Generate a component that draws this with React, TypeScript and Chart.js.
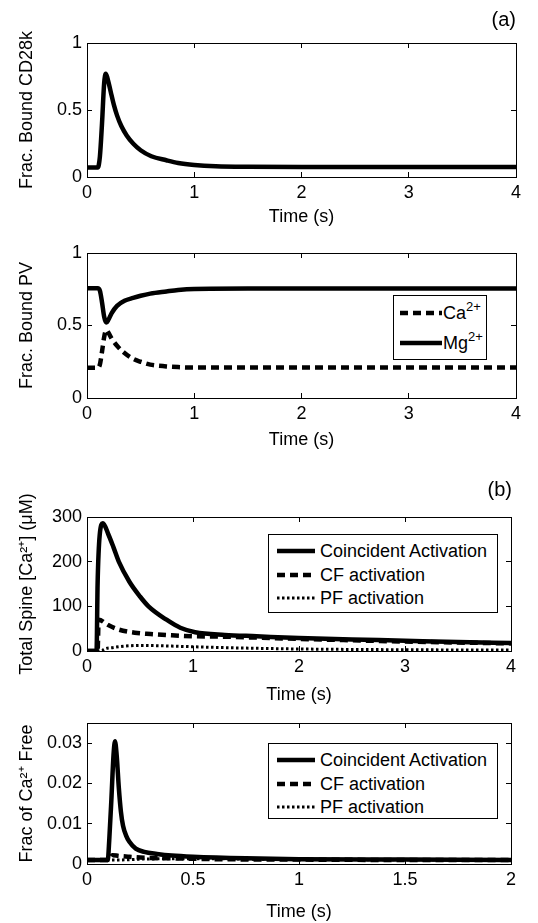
import React, { useEffect, useRef } from 'react';
import { Chart, registerables } from 'chart.js';

Chart.register(...registerables);

const FONT_FAMILY = '"Liberation Sans", Arial, Helvetica, sans-serif';

// ---------- Data: panel (a) top — Frac. Bound CD28k ----------
const cd28kTime = [0, 0.1, 0.12, 0.14, 0.16, 0.175, 0.19, 0.22, 0.25, 0.28, 0.32, 0.37, 0.43, 0.5, 0.6, 0.74, 0.85, 1.0, 1.2, 1.5, 2, 3, 4];
const cd28kBound = [0.07, 0.07, 0.15, 0.4, 0.7, 0.77, 0.74, 0.64, 0.54, 0.46, 0.38, 0.31, 0.25, 0.2, 0.155, 0.125, 0.105, 0.09, 0.08, 0.076, 0.075, 0.075, 0.075];

// ---------- Data: panel (a) bottom — Frac. Bound PV ----------
const pvTime = [0, 0.1, 0.12, 0.14, 0.16, 0.18, 0.2, 0.23, 0.28, 0.35, 0.43, 0.5, 0.59, 0.74, 0.85, 1.0, 1.5, 2, 3, 4];
const pvCa = [0.209, 0.209, 0.23, 0.32, 0.42, 0.469, 0.45, 0.41, 0.36, 0.31, 0.27, 0.25, 0.23, 0.218, 0.213, 0.21, 0.21, 0.21, 0.21, 0.21];
const pvMg = [0.757, 0.757, 0.74, 0.66, 0.56, 0.52, 0.54, 0.585, 0.635, 0.67, 0.69, 0.705, 0.72, 0.735, 0.745, 0.752, 0.755, 0.755, 0.755, 0.755];

// ---------- Data: panel (b) top — Total spine [Ca2+] (uM) ----------
const spineTimeCoincident = [0, 0.09, 0.1, 0.12, 0.15, 0.2, 0.25, 0.3, 0.4, 0.5, 0.58, 0.75, 0.88, 1.02, 1.3, 1.6, 2, 2.5, 3, 3.5, 4];
const spineCoincident = [0, 0, 150, 260, 286, 262, 232, 200, 155, 122, 100, 70, 52, 42, 36, 33, 29, 26, 23, 20, 18];
const spineTimeCF = [0, 0.1, 0.11, 0.2, 0.3, 0.45, 0.6, 0.8, 1.0, 1.3, 1.6, 2, 2.5, 3, 3.5, 4];
const spineCF = [0, 0, 70, 58, 48, 41, 38, 35, 33, 32, 30, 27, 24, 21, 19, 17];
const spineTimePF = [0, 0.14, 0.16, 0.25, 0.35, 0.5, 0.65, 0.8, 1.0, 1.3, 1.6, 2, 2.5, 3, 4];
const spinePF = [0, 0, 4, 8, 11, 12.5, 12, 11, 9.5, 7.5, 6, 4.5, 3.5, 2.8, 2];

// ---------- Data: panel (b) bottom — Frac of Ca2+ free ----------
const freeTimeCoincident = [0, 0.098, 0.105, 0.115, 0.125, 0.132, 0.14, 0.15, 0.16, 0.17, 0.185, 0.2, 0.23, 0.27, 0.33, 0.4, 0.5, 0.75, 1, 1.5, 2];
const freeCoincident = [0.001, 0.001, 0.006, 0.016, 0.027, 0.0305, 0.027, 0.019, 0.013, 0.0095, 0.007, 0.0055, 0.0038, 0.003, 0.0025, 0.0021, 0.0018, 0.0014, 0.0012, 0.0011, 0.001];
const freeTimeCF = [0, 0.1, 0.12, 0.15, 0.2, 0.3, 0.4, 0.6, 1, 1.5, 2];
const freeCF = [0.001, 0.001, 0.0022, 0.002, 0.0018, 0.0015, 0.0014, 0.0012, 0.0011, 0.001, 0.001];
const freeTimePF = [0, 0.15, 0.25, 0.4, 0.6, 0.8, 1.2, 2];
const freePF = [0.001, 0.001, 0.0012, 0.0013, 0.0013, 0.0012, 0.0011, 0.001];

// ---------- Tick labels ----------
const timeTicks4 = [0, 1, 2, 3, 4];
const timeTicks2 = [0, 0.5, 1, 1.5, 2];
const fracTicks = [0, 0.5, 1];
const spineTicks = [0, 100, 200, 300];
const freeTicks = [0, 0.01, 0.02, 0.03];

// ---------- Labels ----------
const xTitle = 'Time (s)';
const pvLabels = ['Ca²⁺', 'Mg²⁺'];
const activationLabels = ['Coincident Activation', 'CF activation', 'PF activation'];

// ---------- Styles ----------
const SOLID = { dash: [] as number[], width: 4.5 };
const DASHED = { dash: [8, 5], width: 4.5 };
const DOTTED = { dash: [2.5, 2.5], width: 3 };

type Series = { label: string; xs: number[]; ys: number[]; style: { dash: number[]; width: number } };
type LegendSpec = { left: number; top: number; width: number; height: number; rows: number[]; sampleLeft: number; sampleWidth: number; textLeft: number };
type PanelSpec = {
  canvasTop: number; canvasHeight: number;
  plot: { left: number; top: number; right: number; bottom: number };
  titleGap: number;
  xMin: number; xMax: number; xTicks: number[];
  yMin: number; yMax: number; yTicks: number[];
  yTitle: string;
  series: Series[];
  legend?: LegendSpec;
};

const PANELS: PanelSpec[] = [
  {
    canvasTop: 0, canvasHeight: 230,
    plot: { left: 87, top: 43, right: 516, bottom: 177 }, titleGap: 40,
    xMin: 0, xMax: 4, xTicks: timeTicks4, yMin: 0, yMax: 1, yTicks: fracTicks,
    yTitle: 'Frac. Bound CD28k',
    series: [{ label: 'CD28k', xs: cd28kTime, ys: cd28kBound, style: SOLID }],
  },
  {
    canvasTop: 230, canvasHeight: 230,
    plot: { left: 87, top: 253, right: 516, bottom: 398 }, titleGap: 42,
    xMin: 0, xMax: 4, xTicks: timeTicks4, yMin: 0, yMax: 1, yTicks: fracTicks,
    yTitle: 'Frac. Bound PV',
    series: [
      { label: pvLabels[0], xs: pvTime, ys: pvCa, style: DASHED },
      { label: pvLabels[1], xs: pvTime, ys: pvMg, style: SOLID },
    ],
    legend: { left: 393, top: 295, width: 94, height: 65, rows: [313, 343], sampleLeft: 400, sampleWidth: 42, textLeft: 443 },
  },
  {
    canvasTop: 460, canvasHeight: 250,
    plot: { left: 87, top: 517, right: 511, bottom: 651 }, titleGap: 44,
    xMin: 0, xMax: 4, xTicks: timeTicks4, yMin: 0, yMax: 300, yTicks: spineTicks,
    yTitle: 'Total Spine [Ca²⁺] (μM)',
    series: [
      { label: activationLabels[0], xs: spineTimeCoincident, ys: spineCoincident, style: SOLID },
      { label: activationLabels[1], xs: spineTimeCF, ys: spineCF, style: DASHED },
      { label: activationLabels[2], xs: spineTimePF, ys: spinePF, style: DOTTED },
    ],
    legend: { left: 268, top: 534, width: 230, height: 79, rows: [551, 575, 598], sampleLeft: 277, sampleWidth: 38, textLeft: 320 },
  },
  {
    canvasTop: 695, canvasHeight: 228,
    plot: { left: 87, top: 723, right: 511, bottom: 864 }, titleGap: 48,
    xMin: 0, xMax: 2, xTicks: timeTicks2, yMin: 0, yMax: 0.035, yTicks: freeTicks,
    yTitle: 'Frac of Ca²⁺ Free',
    series: [
      { label: activationLabels[0], xs: freeTimeCoincident, ys: freeCoincident, style: SOLID },
      { label: activationLabels[1], xs: freeTimeCF, ys: freeCF, style: DASHED },
      { label: activationLabels[2], xs: freeTimePF, ys: freePF, style: DOTTED },
    ],
    legend: { left: 268, top: 743, width: 230, height: 76, rows: [760, 784, 807], sampleLeft: 277, sampleWidth: 38, textLeft: 320 },
  },
];

const PAGE_W = 538;
const FONT_SIZE = 18;

function buildChart(canvas: HTMLCanvasElement, spec: PanelSpec) {
  const plotTopC = spec.plot.top - spec.canvasTop;
  const plotBottomC = spec.plot.bottom - spec.canvasTop;
  const xAxisH = spec.titleGap + 11;
  const padBottom = Math.max(0, spec.canvasHeight - plotBottomC - xAxisH);
  const font = { family: FONT_FAMILY, size: FONT_SIZE };
  const grid = { drawOnChartArea: false, drawTicks: true, tickLength: -5, color: '#000', tickColor: '#000', lineWidth: 1 };
  const border = { display: true, color: '#000', width: 1 };
  const setTicks = (vals: number[]) => (s: any) => { s.ticks = vals.map((v) => ({ value: v })); };

  return new Chart(canvas, {
    type: 'line',
    data: {
      datasets: spec.series.map((s) => ({
        label: s.label,
        data: s.xs.map((x, i) => ({ x, y: s.ys[i] })),
        borderColor: '#000',
        backgroundColor: '#000',
        borderWidth: s.style.width,
        borderDash: s.style.dash,
        pointRadius: 0,
        fill: false,
        cubicInterpolationMode: 'monotone' as const,
        xAxisID: 'x',
        yAxisID: 'y',
      })),
    },
    options: {
      responsive: false,
      animation: false,
      devicePixelRatio: 1,
      events: [],
      layout: { padding: { left: 0, top: plotTopC, right: PAGE_W - spec.plot.right, bottom: padBottom } },
      plugins: { legend: { display: false }, tooltip: { enabled: false }, title: { display: false } },
      scales: {
        x: {
          type: 'linear', position: 'bottom', min: spec.xMin, max: spec.xMax,
          afterBuildTicks: setTicks(spec.xTicks),
          afterFit: (s: any) => { s.height = xAxisH; },
          grid, border,
          ticks: { color: '#000', font, padding: 10, maxRotation: 0, autoSkip: false, callback: (v: any) => String(v) },
          title: { display: true, text: xTitle, color: '#000', font, padding: { top: 0, bottom: 0 } },
        },
        x2: {
          type: 'linear', position: 'top', min: spec.xMin, max: spec.xMax,
          afterBuildTicks: setTicks(spec.xTicks),
          afterFit: (s: any) => { s.height = 0; },
          grid, border,
          ticks: { display: false },
        },
        y: {
          type: 'linear', position: 'left', min: spec.yMin, max: spec.yMax,
          afterBuildTicks: setTicks(spec.yTicks),
          afterFit: (s: any) => { s.width = spec.plot.left; },
          grid, border,
          ticks: { color: '#000', font, padding: 10, autoSkip: false, callback: (v: any) => String(v) },
          title: { display: true, text: spec.yTitle, color: '#000', font, padding: { top: 16, bottom: 0 } },
        },
        y2: {
          type: 'linear', position: 'right', min: spec.yMin, max: spec.yMax,
          afterBuildTicks: setTicks(spec.yTicks),
          afterFit: (s: any) => { s.width = 0; },
          grid, border,
          ticks: { display: false },
        },
      },
    } as any,
  });
}

function renderLabel(label: string) {
  const idx = label.indexOf('²⁺');
  if (idx < 0) return label;
  return (
    <>
      {label.slice(0, idx)}
      <sup style={{ fontSize: 13, verticalAlign: 'baseline', position: 'relative', top: -8 }}>2+</sup>
      {label.slice(idx + 2)}
    </>
  );
}

function Legend({ spec }: { spec: PanelSpec }) {
  const lg = spec.legend!;
  return (
    <>
      <div style={{ position: 'absolute', left: lg.left, top: lg.top, width: lg.width, height: lg.height, border: '1px solid #000', background: '#fff', boxSizing: 'border-box' }} />
      {spec.series.map((s, i) => (
        <React.Fragment key={i}>
          <svg style={{ position: 'absolute', left: lg.sampleLeft, top: lg.rows[i] - 5 }} width={lg.sampleWidth} height={10}>
            <line x1={0} y1={5} x2={lg.sampleWidth} y2={5} stroke="#000" strokeWidth={s.style.width} strokeDasharray={s.style.dash.length ? s.style.dash.join(' ') : undefined} />
          </svg>
          <div style={{ position: 'absolute', left: lg.textLeft, top: lg.rows[i] - 11, height: 22, lineHeight: '22px', fontSize: FONT_SIZE, fontFamily: FONT_FAMILY, color: '#000', whiteSpace: 'nowrap' }}>
            {renderLabel(s.label)}
          </div>
        </React.Fragment>
      ))}
    </>
  );
}

function Panel({ spec }: { spec: PanelSpec }) {
  const ref = useRef<HTMLCanvasElement | null>(null);
  useEffect(() => {
    if (!ref.current) return;
    const chart = buildChart(ref.current, spec);
    return () => chart.destroy();
  }, [spec]);
  return (
    <>
      <canvas
        ref={ref}
        width={PAGE_W}
        height={spec.canvasHeight}
        style={{ position: 'absolute', left: 0, top: spec.canvasTop, width: PAGE_W, height: spec.canvasHeight }}
      />
      {spec.legend ? <Legend spec={spec} /> : null}
    </>
  );
}

const panelTags = [
  { text: '(a)', right: 516, centerY: 19 },
  { text: '(b)', right: 512, centerY: 489 },
];

export default function App() {
  return (
    <div style={{ position: 'absolute', left: 0, top: 0, width: PAGE_W, height: 923, background: '#fff', overflow: 'hidden' }}>
      {PANELS.map((p, i) => <Panel key={i} spec={p} />)}
      {panelTags.map((t, i) => (
        <div key={i} style={{ position: 'absolute', left: t.right - 60, width: 60, top: t.centerY - 12, height: 24, lineHeight: '24px', textAlign: 'right', fontSize: 20, fontFamily: FONT_FAMILY, color: '#000' }}>
          {t.text}
        </div>
      ))}
    </div>
  );
}
